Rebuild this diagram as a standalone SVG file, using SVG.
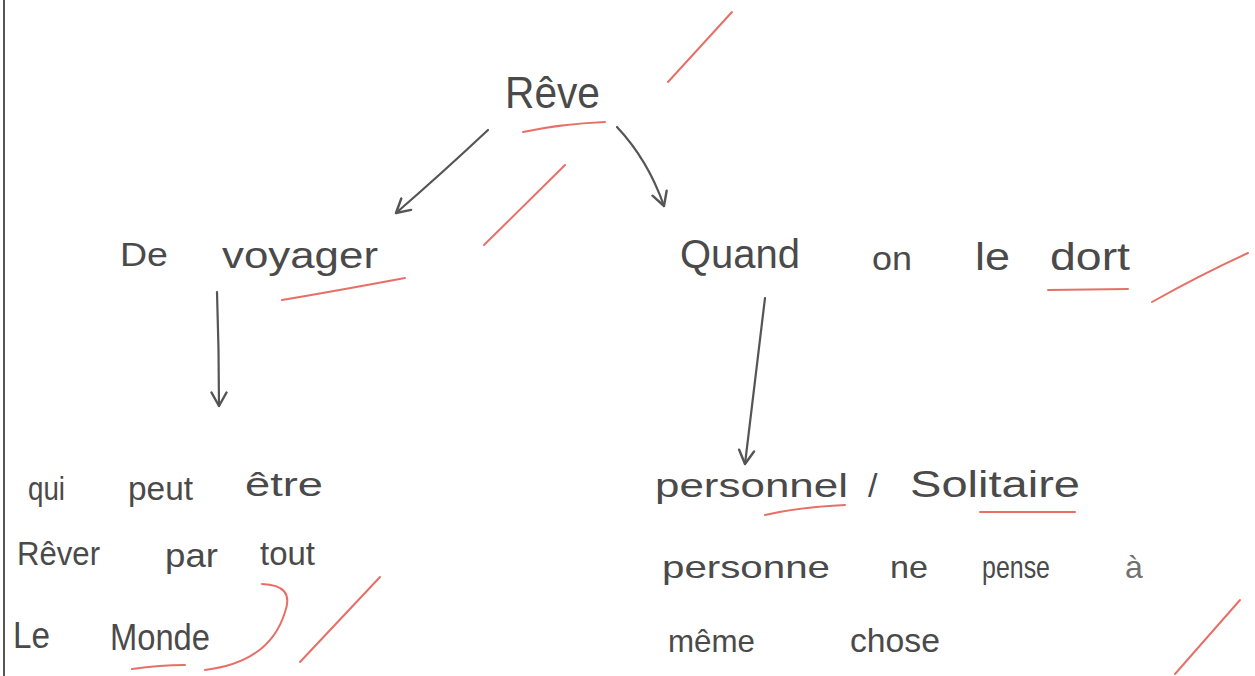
<svg xmlns="http://www.w3.org/2000/svg" width="1255" height="676" viewBox="0 0 1255 676">
<style>
.t{font-family:"Liberation Sans","DejaVu Sans",sans-serif;fill:#4a4a4a;}
.c{fill:none;stroke:#555;stroke-width:2.2;stroke-linecap:round;}
.r{fill:none;stroke:#e2574c;stroke-width:2;stroke-linecap:round;opacity:0.85;}
</style>
<defs>
<marker id="ah" viewBox="0 0 12 12" refX="10" refY="6" markerWidth="18" markerHeight="18" markerUnits="userSpaceOnUse" orient="auto">
<path d="M1,1 L10,6 L1,11" fill="none" stroke="#555" stroke-width="1.6" stroke-linecap="round" stroke-linejoin="round"/>
</marker>
</defs>
<rect width="1255" height="676" fill="#fff"/>
<line x1="4" y1="0" x2="4" y2="676" stroke="#555" stroke-width="2"/>
<g id="connectors">
<path class="c" d="M488,130 Q440,175 396,213" marker-end="url(#ah)"/>
<path class="c" d="M617,127 Q648,160 664,206" marker-end="url(#ah)"/>
<path class="c" d="M217,292 Q219,350 219,406" marker-end="url(#ah)"/>
<path class="c" d="M765,298 Q755,380 745,464" marker-end="url(#ah)"/>
</g>
<g id="marks">
<path class="r" d="M523,132 Q560,124 605,122"/>
<path class="r" d="M668,82 L732,12"/>
<path class="r" d="M484,245 L565,165"/>
<path class="r" d="M282,300 Q330,292 405,278"/>
<path class="r" d="M1048,290 L1128,289"/>
<path class="r" d="M1152,302 Q1200,275 1248,253"/>
<path class="r" d="M765,515 Q800,507 845,505"/>
<path class="r" d="M980,512 L1075,512"/>
<path class="r" d="M132,669 Q160,665 185,665"/>
<path class="r" d="M262,584 Q295,585 285,612 Q270,662 205,670"/>
<path class="r" d="M300,662 L380,577"/>
<path class="r" d="M1175,674 L1240,600"/>
</g>
<g id="n-reve"><text class="t" x="505" y="108" font-size="44" textLength="95" lengthAdjust="spacingAndGlyphs">Rêve</text></g>
<g id="n-voyager">
<text class="t" x="120" y="266" font-size="34" textLength="48" lengthAdjust="spacingAndGlyphs">De</text>
<text class="t" x="222" y="268" font-size="36" textLength="156" lengthAdjust="spacingAndGlyphs">voyager</text>
</g>
<g id="n-dort">
<text class="t" x="680" y="268" font-size="40" textLength="120" lengthAdjust="spacingAndGlyphs">Quand</text>
<text class="t" x="872" y="270" font-size="34" textLength="40" lengthAdjust="spacingAndGlyphs">on</text>
<text class="t" x="975" y="270" font-size="38" textLength="35" lengthAdjust="spacingAndGlyphs">le</text>
<text class="t" x="1050" y="270" font-size="38" textLength="80" lengthAdjust="spacingAndGlyphs">dort</text>
</g>
<g id="n-monde">
<text class="t" x="28" y="500" font-size="34" textLength="37" lengthAdjust="spacingAndGlyphs">qui</text>
<text class="t" x="128" y="500" font-size="34" textLength="65" lengthAdjust="spacingAndGlyphs">peut</text>
<text class="t" x="245" y="496" font-size="34" textLength="78" lengthAdjust="spacingAndGlyphs">être</text>
<text class="t" x="17" y="565" font-size="34" textLength="83" lengthAdjust="spacingAndGlyphs">Rêver</text>
<text class="t" x="165" y="567" font-size="34" textLength="53" lengthAdjust="spacingAndGlyphs">par</text>
<text class="t" x="260" y="565" font-size="34" textLength="55" lengthAdjust="spacingAndGlyphs">tout</text>
<text class="t" x="13" y="648" font-size="36" textLength="37" lengthAdjust="spacingAndGlyphs">Le</text>
<text class="t" x="110" y="650" font-size="36" textLength="100" lengthAdjust="spacingAndGlyphs">Monde</text>
</g>
<g id="n-solitaire">
<text class="t" x="655" y="497" font-size="34" textLength="193" lengthAdjust="spacingAndGlyphs">personnel</text>
<text class="t" x="868" y="497" font-size="34">/</text>
<text class="t" x="910" y="497" font-size="36" textLength="170" lengthAdjust="spacingAndGlyphs">Solitaire</text>
<text class="t" x="662" y="578" font-size="32" textLength="168" lengthAdjust="spacingAndGlyphs">personne</text>
<text class="t" x="890" y="578" font-size="32" textLength="38" lengthAdjust="spacingAndGlyphs">ne</text>
<text class="t" x="982" y="578" font-size="32" textLength="68" lengthAdjust="spacingAndGlyphs">pense</text>
<text class="t" x="1125" y="578" font-size="32" fill-opacity="0.8">à</text>
<text class="t" x="668" y="652" font-size="32" textLength="87" lengthAdjust="spacingAndGlyphs">même</text>
<text class="t" x="850" y="652" font-size="34" textLength="90" lengthAdjust="spacingAndGlyphs">chose</text>
</g>
</svg>
